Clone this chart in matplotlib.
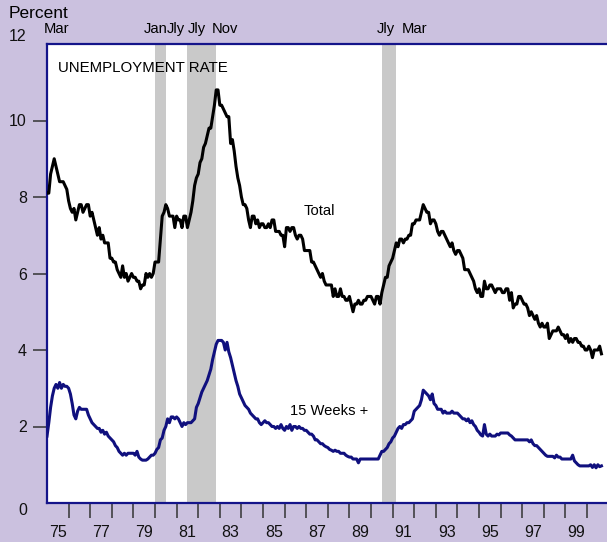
import numpy as np
from matplotlib import pyplot as plt

plt.rcParams["font.family"] = ["Liberation Sans", "DejaVu Sans"]

# Civilian unemployment rate, monthly, Jan 1975 - Sep 2000 (percent)
total_rate = [
    8.1, 8.1, 8.6, 8.8, 9.0, 8.8, 8.6, 8.4, 8.4, 8.4, 8.3, 8.2,  # 1975
    7.9, 7.7, 7.6, 7.7, 7.4, 7.6, 7.8, 7.8, 7.6, 7.7, 7.8, 7.8,  # 1976
    7.5, 7.6, 7.4, 7.2, 7.0, 7.2, 6.9, 7.0, 6.8, 6.8, 6.8, 6.4,  # 1977
    6.4, 6.3, 6.3, 6.1, 6.0, 5.9, 6.2, 5.9, 6.0, 5.8, 5.9, 6.0,  # 1978
    5.9, 5.9, 5.8, 5.8, 5.6, 5.7, 5.7, 6.0, 5.9, 6.0, 5.9, 6.0,  # 1979
    6.3, 6.3, 6.3, 6.9, 7.5, 7.6, 7.8, 7.7, 7.5, 7.5, 7.5, 7.2,  # 1980
    7.5, 7.4, 7.4, 7.2, 7.5, 7.5, 7.2, 7.4, 7.6, 7.9, 8.3, 8.5,  # 1981
    8.6, 8.9, 9.0, 9.3, 9.4, 9.6, 9.8, 9.8, 10.1, 10.4, 10.8, 10.8,  # 1982
    10.4, 10.4, 10.3, 10.2, 10.1, 10.1, 9.4, 9.5, 9.2, 8.8, 8.5, 8.3,  # 1983
    8.0, 7.8, 7.8, 7.7, 7.4, 7.2, 7.5, 7.5, 7.3, 7.4, 7.2, 7.3,  # 1984
    7.3, 7.2, 7.2, 7.3, 7.2, 7.4, 7.4, 7.1, 7.1, 7.1, 7.0, 7.0,  # 1985
    6.7, 7.2, 7.2, 7.1, 7.2, 7.2, 7.0, 6.9, 7.0, 7.0, 6.9, 6.6,  # 1986
    6.6, 6.6, 6.6, 6.3, 6.3, 6.2, 6.1, 6.0, 5.9, 6.0, 5.8, 5.7,  # 1987
    5.7, 5.7, 5.7, 5.4, 5.6, 5.4, 5.4, 5.6, 5.4, 5.4, 5.3, 5.3,  # 1988
    5.4, 5.2, 5.0, 5.2, 5.2, 5.3, 5.2, 5.2, 5.3, 5.3, 5.4, 5.4,  # 1989
    5.4, 5.3, 5.2, 5.4, 5.4, 5.2, 5.5, 5.7, 5.9, 5.9, 6.2, 6.3,  # 1990
    6.4, 6.6, 6.8, 6.7, 6.9, 6.9, 6.8, 6.9, 6.9, 7.0, 7.0, 7.3,  # 1991
    7.3, 7.4, 7.4, 7.4, 7.6, 7.8, 7.7, 7.6, 7.6, 7.3, 7.4, 7.4,  # 1992
    7.3, 7.1, 7.0, 7.1, 7.1, 7.0, 6.9, 6.8, 6.7, 6.8, 6.6, 6.5,  # 1993
    6.6, 6.6, 6.5, 6.4, 6.1, 6.1, 6.1, 6.0, 5.9, 5.8, 5.6, 5.5,  # 1994
    5.6, 5.4, 5.4, 5.8, 5.6, 5.6, 5.7, 5.7, 5.6, 5.5, 5.6, 5.6,  # 1995
    5.6, 5.5, 5.5, 5.6, 5.6, 5.3, 5.5, 5.1, 5.2, 5.2, 5.4, 5.4,  # 1996
    5.3, 5.2, 5.2, 5.1, 4.9, 5.0, 4.9, 4.8, 4.9, 4.7, 4.6, 4.7,  # 1997
    4.6, 4.6, 4.7, 4.3, 4.4, 4.5, 4.5, 4.5, 4.6, 4.5, 4.4, 4.4,  # 1998
    4.3, 4.4, 4.2, 4.3, 4.2, 4.3, 4.3, 4.2, 4.2, 4.1, 4.1, 4.0,  # 1999
    4.0, 4.1, 4.0, 3.8, 4.0, 4.0, 4.0, 4.1, 3.9,  # 2000
]

# Unemployed 15 weeks and over, percent of labor force
weeks15_rate = [
    1.75, 2.1, 2.5, 2.8, 3.0, 3.1, 3.0, 3.15, 3.0, 3.1, 3.05, 3.05,  # 1975
    3.0, 2.85, 2.6, 2.3, 2.2, 2.4, 2.5, 2.45, 2.45, 2.45, 2.45, 2.3,  # 1976
    2.2, 2.1, 2.05, 2.0, 1.95, 1.95, 1.85, 1.9, 1.8, 1.85, 1.75, 1.7,  # 1977
    1.65, 1.6, 1.5, 1.45, 1.35, 1.3, 1.25, 1.3, 1.25, 1.3, 1.3, 1.3,  # 1978
    1.3, 1.25, 1.35, 1.2, 1.15, 1.12, 1.12, 1.12, 1.15, 1.2, 1.25, 1.25,  # 1979
    1.3, 1.4, 1.45, 1.65, 1.7, 1.9, 2.0, 2.2, 2.1, 2.25, 2.25, 2.2,  # 1980
    2.25, 2.2, 2.1, 2.0, 2.1, 2.05, 2.1, 2.1, 2.1, 2.15, 2.2, 2.5,  # 1981
    2.6, 2.75, 2.9, 3.0, 3.1, 3.2, 3.35, 3.5, 3.75, 3.95, 4.15, 4.25,  # 1982
    4.25, 4.25, 4.2, 4.0, 4.2, 3.95, 3.8, 3.6, 3.4, 3.2, 3.05, 2.85,  # 1983
    2.75, 2.65, 2.55, 2.5, 2.45, 2.35, 2.3, 2.25, 2.2, 2.2, 2.1, 2.05,  # 1984
    2.1, 2.15, 2.1, 2.1, 2.05, 2.0, 2.0, 1.95, 2.0, 1.95, 2.05, 1.95,  # 1985
    1.9, 2.0, 1.95, 2.05, 1.9, 2.0, 2.0, 1.95, 2.0, 1.95, 1.95, 1.9,  # 1986
    1.9, 1.85, 1.8, 1.8, 1.75, 1.65, 1.65, 1.6, 1.55, 1.55, 1.5, 1.47,  # 1987
    1.45, 1.4, 1.38, 1.35, 1.38, 1.35, 1.35, 1.3, 1.3, 1.3, 1.25, 1.22,  # 1988
    1.2, 1.2, 1.15, 1.15, 1.15, 1.05, 1.15, 1.15, 1.15, 1.15, 1.15, 1.15,  # 1989
    1.15, 1.15, 1.15, 1.15, 1.15, 1.25, 1.35, 1.35, 1.4, 1.45, 1.55, 1.6,  # 1990
    1.7, 1.75, 1.85, 1.95, 2.0, 1.95, 2.05, 2.05, 2.1, 2.1, 2.15, 2.2,  # 1991
    2.4, 2.45, 2.5, 2.55, 2.7, 2.95, 2.9, 2.85, 2.8, 2.7, 2.85, 2.6,  # 1992
    2.55, 2.45, 2.45, 2.45, 2.35, 2.4, 2.35, 2.35, 2.35, 2.4, 2.35, 2.35,  # 1993
    2.35, 2.3, 2.25, 2.2, 2.2, 2.15, 2.2, 2.1, 2.15, 2.05, 2.0, 1.9,  # 1994
    1.85, 1.78, 1.75, 2.05, 1.8, 1.75, 1.8, 1.75, 1.75, 1.75, 1.8, 1.78,  # 1995
    1.83, 1.83, 1.83, 1.83, 1.83, 1.78, 1.75, 1.7, 1.65, 1.65, 1.65, 1.65,  # 1996
    1.65, 1.65, 1.65, 1.65, 1.6, 1.65, 1.55, 1.5, 1.5, 1.45, 1.4, 1.35,  # 1997
    1.3, 1.25, 1.22, 1.22, 1.22, 1.22, 1.18, 1.25, 1.2, 1.2, 1.15, 1.15,  # 1998
    1.15, 1.15, 1.15, 1.15, 1.25, 1.1, 1.05, 1.0, 0.97, 0.97, 0.97, 0.97,  # 1999
    0.97, 0.97, 1.0, 0.93, 1.0, 0.92, 1.0, 0.95, 0.97,  # 2000
]

# Recessions (peak, trough) in decimal years
rec_start = [1980.0, 1981.5, 1990.5]
rec_end = [1980.5, 1982 + 10 / 12, 1991 + 2 / 12]

# Turning point labels above the plot
turn_labels = ["Mar", "Jan", "Jly", "Jly", "Nov", "Jly", "Mar"]
turn_x = [1974.86, 1980.02, 1980.56, 1981.53, 1982.64, 1990.28, 1991.44]
turn_ha = ["left", "center", "left", "left", "left", "left", "left"]

year_labels = ["75", "77", "79", "81", "83", "85", "87", "89", "91", "93", "95", "97", "99"]
y_ticks = [0, 2, 4, 6, 8, 10, 12]

bg = "#cbc1df"
navy = "#14148a"

months = 1975 + np.arange(len(total_rate)) / 12

fig = plt.figure(figsize=(6.07, 5.42), dpi=100, facecolor=bg)
ax = fig.add_axes([47 / 607, 39 / 542, 561 / 607, 459 / 542])
ax.set_facecolor("white")

for s, e in zip(rec_start, rec_end):
    ax.axvspan(s, e, color="#c9c9c9", lw=0, zorder=1)

ax.plot(months, total_rate, color="black", lw=2.2, zorder=3)
ax.plot(months, weeks15_rate, color="#10107e", lw=2.2, zorder=3)

ax.set_xlim(1975, 2000.97)
ax.set_ylim(0, 12)

# spines
for side in ["left", "bottom", "top"]:
    ax.spines[side].set_color(navy)
    ax.spines[side].set_linewidth(1.6)
ax.spines["right"].set_visible(False)

# y axis
ax.set_yticks(y_ticks)
ax.set_yticklabels([str(v) for v in y_ticks])
ax.tick_params(axis="y", length=10, width=1.1, color="#333333", pad=4.5,
               labelsize=11.5, labelcolor="#111111")
for t, v in zip(ax.yaxis.get_major_ticks(), y_ticks):
    if v == 0:
        t.tick1line.set_visible(False)
        t.label1.set_verticalalignment("top")
    elif v == 12:
        t.tick1line.set_visible(False)
        t.label1.set_verticalalignment("bottom")

# x axis: year ticks, labels centred in odd years
ax.set_xticks(np.arange(1976, 2001))
ax.set_xticklabels([])
ax.set_xticks([1975.5 + 2 * i for i in range(len(year_labels))], minor=True)
ax.set_xticklabels(year_labels, minor=True)
ax.tick_params(axis="x", which="major", length=11, width=1.1, color="#333333")
ax.tick_params(axis="x", which="minor", length=0, pad=16, labelsize=11.5,
               labelcolor="#111111")

# texts
ax.text(1975.51, 11.37, "UNEMPLOYMENT RATE", fontsize=10.8, va="center", ha="left")
ax.text(1986.9, 7.63, "Total", fontsize=10.6, va="center", ha="left")
ax.text(1986.25, 2.4, "15 Weeks +", fontsize=10.6, va="center", ha="left")

for lab, x, ha in zip(turn_labels, turn_x, turn_ha):
    ax.text(x, 12.38, lab, fontsize=10.6, va="center", ha=ha, clip_on=False)

fig.text(9 / 607, 1 - 14 / 542, "Percent", fontsize=12.5, va="center", ha="left")

plt.savefig("out.png", dpi=100, facecolor=fig.get_facecolor())
